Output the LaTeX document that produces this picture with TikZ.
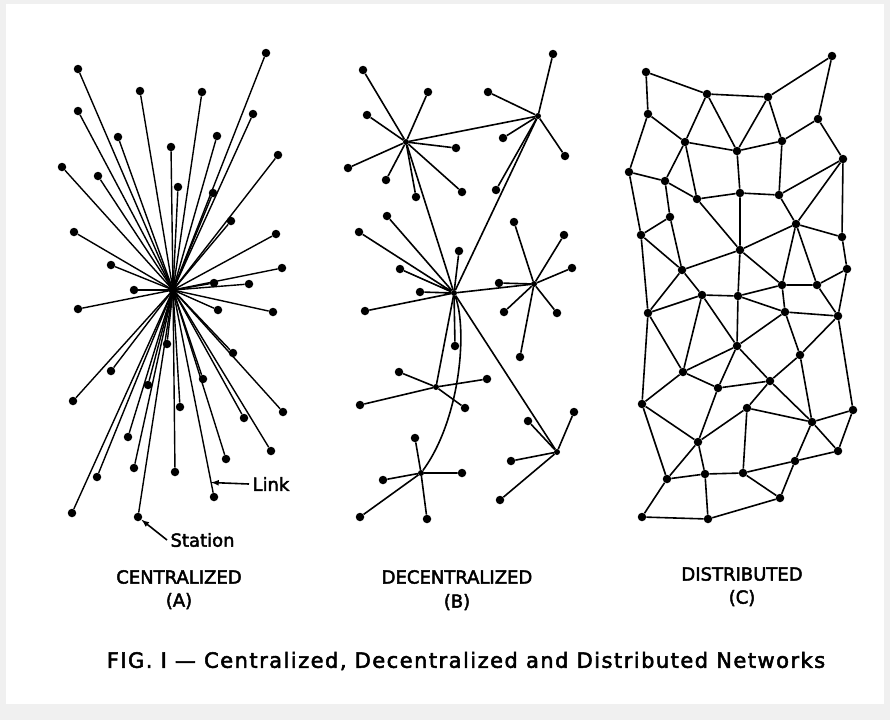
\documentclass[tikz,border=0pt]{standalone}
\usepackage{fontspec}
\setmainfont{DejaVu Sans}
\newfontfamily\leroy{DejaVu Sans}[FakeBold=2.5]
\usetikzlibrary{arrows}
\usetikzlibrary{calc}

\begin{document}
\begin{tikzpicture}[x=1pt,y=-1pt]
    \tikzstyle{edge}=[draw=black,line width=1.6pt,-]
    \tikzstyle{node}=[circle,fill=black,minimum size=8.5pt,inner sep=0pt]
    \tikzstyle{hub}=[circle,fill=black,minimum size=6pt,inner sep=0pt]
    \tikzstyle{title}=[font=\leroy\fontsize{18}{20}\selectfont]
    \tikzstyle{caption}=[font=\leroy\fontsize{21}{23}\selectfont\addfontfeature{LetterSpace=7}]
    \tikzstyle{pointer}=[draw=black,line width=1.6pt,-latex]

    % page
    \fill[gray!12] (0,0) rectangle (890,720);
    \fill[white] (6,4) rectangle (884,704);
    \useasboundingbox (0,0) rectangle (890,720);

    % centralized
    \node[hub,minimum size=9pt] (a0) at (173,290) {};

    \node[node] (a1)  at ( 78, 69) {};
    \node[node] (a2)  at (140, 91) {};
    \node[node] (a3)  at ( 78,111) {};
    \node[node] (a4)  at (118,137) {};
    \node[node] (a5)  at (171,147) {};
    \node[node] (a6)  at ( 62,167) {};
    \node[node] (a7)  at ( 98,176) {};
    \node[node] (a8)  at (178,187) {};
    \node[node] (a9)  at ( 74,232) {};
    \node[node] (a10) at (111,265) {};
    \node[node] (a11) at (134,290) {};
    \node[node] (a12) at (266, 53) {};
    \node[node] (a13) at (202, 92) {};
    \node[node] (a14) at (253,114) {};
    \node[node] (a15) at (217,136) {};
    \node[node] (a16) at (278,155) {};
    \node[node] (a17) at (213,193) {};
    \node[node] (a18) at (231,221) {};
    \node[node] (a19) at (276,234) {};
    \node[node] (a20) at (282,268) {};
    \node[node] (a21) at (214,283) {};
    \node[node] (a22) at (249,284) {};
    \node[node] (a23) at ( 78,309) {};
    \node[node] (a24) at (167,344) {};
    \node[node] (a25) at (111,371) {};
    \node[node] (a26) at ( 73,401) {};
    \node[node] (a27) at (148,385) {};
    \node[node] (a28) at (180,407) {};
    \node[node] (a29) at (128,437) {};
    \node[node] (a30) at (134,468) {};
    \node[node] (a31) at (175,472) {};
    \node[node] (a32) at ( 97,477) {};
    \node[node] (a33) at ( 72,513) {};
    \node[node] (a34) at (138,517) {};
    \node[node] (a35) at (218,310) {};
    \node[node] (a36) at (273,312) {};
    \node[node] (a37) at (233,353) {};
    \node[node] (a38) at (203,379) {};
    \node[node] (a39) at (283,412) {};
    \node[node] (a40) at (244,418) {};
    \node[node] (a41) at (271,451) {};
    \node[node] (a42) at (226,459) {};
    \node[node] (a43) at (214,497) {};

    \foreach \i in {1,...,43}
        \path[edge,line width=1.4pt] (a0.center) -- (a\i);

    % decentralized
    \node[hub] (h1) at (406,142) {};
    \node[hub] (h2) at (454,293) {};
    \node[hub] (h3) at (538,116) {};
    \node[hub] (h4) at (534,284) {};
    \node[hub] (h5) at (436,387) {};
    \node[hub] (h6) at (421,473) {};
    \node[hub] (h7) at (557,452) {};

    \node[node] (b1)  at (363, 70) {};
    \node[node] (b2)  at (428, 92) {};
    \node[node] (b3)  at (367,115) {};
    \node[node] (b4)  at (456,148) {};
    \node[node] (b5)  at (348,168) {};
    \node[node] (b6)  at (386,180) {};
    \node[node] (b7)  at (462,192) {};
    \node[node] (b8)  at (416,197) {};

    \node[node] (b9)  at (359,232) {};
    \node[node] (b10) at (387,216) {};
    \node[node] (b11) at (400,269) {};
    \node[node] (b12) at (420,292) {};
    \node[node] (b13) at (459,251) {};
    \node[node] (b14) at (365,311) {};
    \node[node] (b15) at (455,346) {};

    \node[node] (b16) at (553, 54) {};
    \node[node] (b17) at (488, 92) {};
    \node[node] (b18) at (503,138) {};
    \node[node] (b19) at (565,156) {};
    \node[node] (b20) at (496,190) {};

    \node[node] (b21) at (514,222) {};
    \node[node] (b22) at (564,235) {};
    \node[node] (b23) at (572,268) {};
    \node[node] (b24) at (499,283) {};
    \node[node] (b25) at (504,312) {};
    \node[node] (b26) at (557,313) {};
    \node[node] (b27) at (520,357) {};

    \node[node] (b28) at (399,372) {};
    \node[node] (b29) at (360,405) {};
    \node[node] (b30) at (465,408) {};
    \node[node] (b31) at (487,379) {};

    \node[node] (b32) at (415,438) {};
    \node[node] (b33) at (383,480) {};
    \node[node] (b34) at (462,473) {};
    \node[node] (b35) at (360,517) {};
    \node[node] (b36) at (427,519) {};

    \node[node] (b37) at (574,412) {};
    \node[node] (b38) at (528,421) {};
    \node[node] (b39) at (511,461) {};
    \node[node] (b40) at (500,500) {};

    \path[edge] (h1) -- (b1)  (h1) -- (b2)  (h1) -- (b3)  (h1) -- (b4)
                (h1) -- (b5)  (h1) -- (b6)  (h1) -- (b7)  (h1) -- (b8);
    \path[edge] (h2) -- (b9)  (h2) -- (b10) (h2) -- (b11) (h2) -- (b12)
                (h2) -- (b13) (h2) -- (b14) (h2) -- (b15);
    \path[edge] (h3) -- (b16) (h3) -- (b17) (h3) -- (b18) (h3) -- (b19)
                (h3) -- (b20);
    \path[edge] (h4) -- (b21) (h4) -- (b22) (h4) -- (b23) (h4) -- (b24)
                (h4) -- (b25) (h4) -- (b26) (h4) -- (b27);
    \path[edge] (h5) -- (b28) (h5) -- (b29) (h5) -- (b30) (h5) -- (b31);
    \path[edge] (h6) -- (b32) (h6) -- (b33) (h6) -- (b34) (h6) -- (b35)
                (h6) -- (b36);
    \path[edge] (h7) -- (b37) (h7) -- (b38) (h7) -- (b39) (h7) -- (b40);

    \path[edge] (h1) -- (h3);
    \path[edge] (h1) -- (h2);
    \path[edge] (h3) -- (h2);
    \path[edge] (h2) -- (h4);
    \path[edge] (h2) -- (h5);
    \path[edge] (h2) -- (h7);
    \path[edge] (h6) .. controls (460,420) and (468,330) .. (h2);

    % distributed
    \node[node] (c1)  at (646, 72) {};
    \node[node] (c2)  at (707, 94) {};
    \node[node] (c3)  at (768, 97) {};
    \node[node] (c4)  at (832, 56) {};
    \node[node] (c5)  at (648,114) {};
    \node[node] (c6)  at (685,142) {};
    \node[node] (c7)  at (737,151) {};
    \node[node] (c8)  at (782,141) {};
    \node[node] (c9)  at (818,119) {};
    \node[node] (c10) at (843,159) {};
    \node[node] (c11) at (629,172) {};
    \node[node] (c12) at (665,181) {};
    \node[node] (c13) at (697,199) {};
    \node[node] (c14) at (740,193) {};
    \node[node] (c15) at (779,195) {};
    \node[node] (c16) at (670,217) {};
    \node[node] (c17) at (641,235) {};
    \node[node] (c18) at (796,224) {};
    \node[node] (c19) at (842,237) {};
    \node[node] (c20) at (740,250) {};
    \node[node] (c21) at (682,270) {};
    \node[node] (c22) at (847,269) {};
    \node[node] (c23) at (782,285) {};
    \node[node] (c24) at (817,285) {};
    \node[node] (c25) at (702,295) {};
    \node[node] (c26) at (738,296) {};
    \node[node] (c27) at (648,313) {};
    \node[node] (c28) at (785,312) {};
    \node[node] (c29) at (838,316) {};
    \node[node] (c30) at (737,346) {};
    \node[node] (c31) at (800,355) {};
    \node[node] (c32) at (683,372) {};
    \node[node] (c33) at (718,388) {};
    \node[node] (c34) at (770,381) {};
    \node[node] (c35) at (642,404) {};
    \node[node] (c36) at (747,408) {};
    \node[node] (c37) at (853,410) {};
    \node[node] (c38) at (812,422) {};
    \node[node] (c39) at (698,442) {};
    \node[node] (c40) at (838,451) {};
    \node[node] (c41) at (795,461) {};
    \node[node] (c42) at (667,479) {};
    \node[node] (c43) at (705,474) {};
    \node[node] (c44) at (743,473) {};
    \node[node] (c45) at (642,517) {};
    \node[node] (c46) at (708,519) {};
    \node[node] (c47) at (780,498) {};

    \path[edge] (c1) -- (c2)   (c1) -- (c5)   (c2) -- (c3)   (c2) -- (c6);
    \path[edge] (c2) -- (c7)   (c3) -- (c4)   (c3) -- (c7)   (c3) -- (c8);
    \path[edge] (c4) -- (c9)   (c5) -- (c6)   (c5) -- (c11)  (c6) -- (c7);
    \path[edge] (c6) -- (c12)  (c6) -- (c13)  (c7) -- (c8)   (c7) -- (c14);
    \path[edge] (c8) -- (c9)   (c8) -- (c15)  (c9) -- (c10)  (c10) -- (c15);
    \path[edge] (c10) -- (c18) (c10) -- (c19) (c11) -- (c12) (c11) -- (c17);
    \path[edge] (c12) -- (c13) (c12) -- (c16) (c13) -- (c14) (c13) -- (c20);
    \path[edge] (c14) -- (c15) (c14) -- (c20) (c15) -- (c18) (c16) -- (c17);
    \path[edge] (c16) -- (c21) (c17) -- (c21) (c17) -- (c27) (c18) -- (c19);
    \path[edge] (c18) -- (c20) (c18) -- (c23) (c18) -- (c24) (c19) -- (c22);
    \path[edge] (c20) -- (c21) (c20) -- (c23) (c20) -- (c26) (c21) -- (c25);
    \path[edge] (c21) -- (c27) (c22) -- (c24) (c22) -- (c29) (c23) -- (c24);
    \path[edge] (c23) -- (c26) (c23) -- (c28) (c24) -- (c29) (c25) -- (c26);
    \path[edge] (c25) -- (c27) (c25) -- (c30) (c25) -- (c32) (c26) -- (c28);
    \path[edge] (c26) -- (c30) (c27) -- (c32) (c27) -- (c35) (c28) -- (c29);
    \path[edge] (c28) -- (c30) (c28) -- (c31) (c29) -- (c31) (c29) -- (c37);
    \path[edge] (c30) -- (c32) (c30) -- (c33) (c30) -- (c34) (c31) -- (c34);
    \path[edge] (c31) -- (c38) (c32) -- (c33) (c32) -- (c35) (c33) -- (c34);
    \path[edge] (c33) -- (c39) (c34) -- (c36) (c34) -- (c38) (c35) -- (c39);
    \path[edge] (c35) -- (c42) (c36) -- (c38) (c36) -- (c39) (c36) -- (c44);
    \path[edge] (c37) -- (c38) (c37) -- (c40) (c38) -- (c40) (c38) -- (c41);
    \path[edge] (c39) -- (c42) (c39) -- (c43) (c40) -- (c41) (c41) -- (c44);
    \path[edge] (c41) -- (c47) (c42) -- (c43) (c42) -- (c45) (c43) -- (c44);
    \path[edge] (c43) -- (c46) (c44) -- (c47) (c45) -- (c46) (c46) -- (c47);

    % link and station
    \coordinate (linkpt) at ($(a0)!0.93!(a43)$);
    \node[title,anchor=west] (link) at (249,484) {Link};
    \node[title,anchor=west] (station) at (167,540) {Station};
    \path[pointer] (link.west) -- (linkpt);
    \path[pointer] (station.west) -- (a34);

    % titles
    \node[title] (ta) at (179,577) {CENTRALIZED};
    \node[title] (tb) at (457,577) {DECENTRALIZED};
    \node[title] (tc) at (742,574) {DISTRIBUTED};
    \node[title] (la) at (179,601) {(A)};
    \node[title] (lb) at (457,602) {(B)};
    \node[title] (lc) at (742,598) {(C)};

    \node[caption] (fig) at (466,661) {FIG. I — Centralized, Decentralized and Distributed Networks};
\end{tikzpicture}
\end{document}
